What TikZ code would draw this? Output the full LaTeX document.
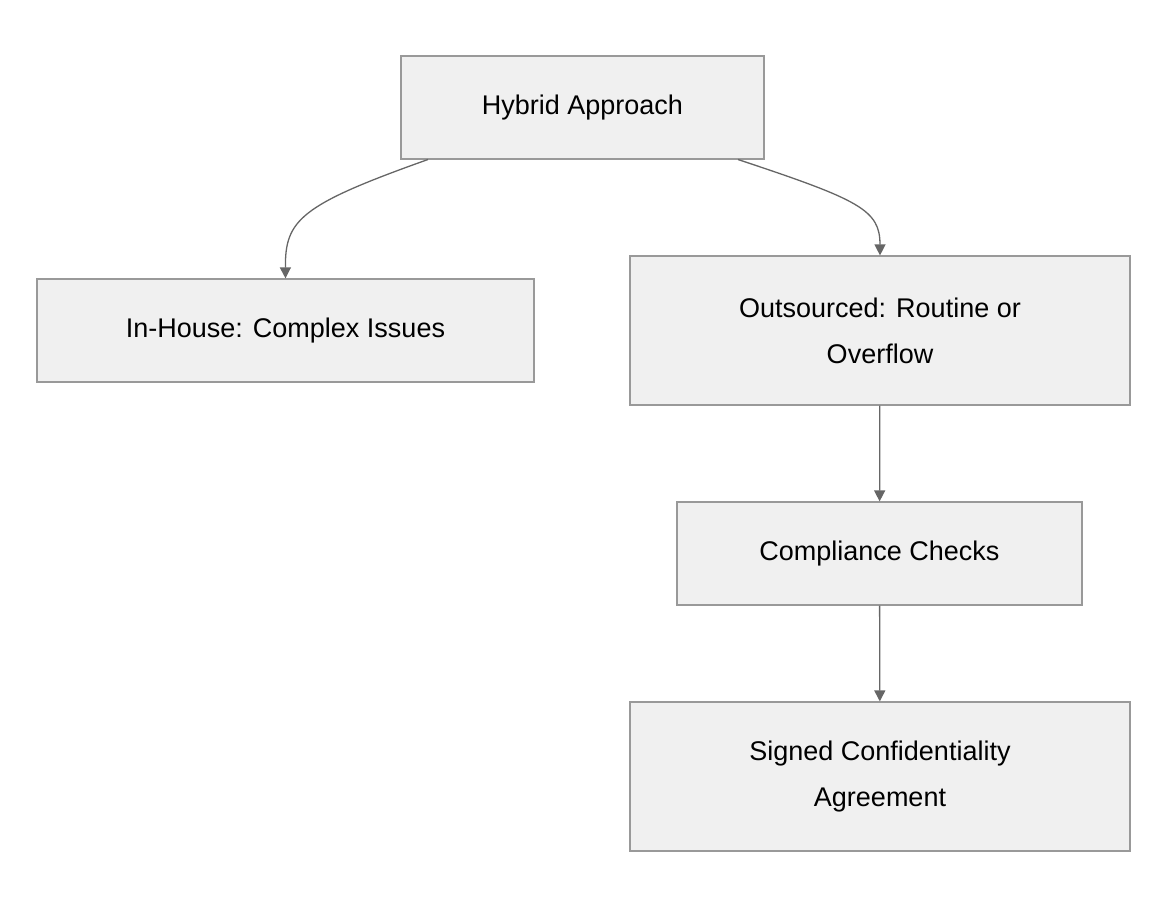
\documentclass[tikz,border=0pt]{standalone}
\usepackage{fontspec}
\setmainfont{Liberation Sans}
\usetikzlibrary{arrows.meta}
\begin{document}
\begin{tikzpicture}[x=1pt,y=-1pt,
  box/.style={draw=black!40,fill=black!6,line width=1.2pt,inner sep=0pt,align=center,font=\fontsize{27}{46}\selectfont},
  arr/.style={draw=black!60,line width=1.3pt,-{Triangle[length=11pt,width=11pt]}}]
\useasboundingbox (0,0) rectangle (1168,908);
\node[box,minimum width=363,minimum height=103] (h) at (582.5,107.5) {Hybrid Approach};
\node[box,minimum width=497,minimum height=103] (i) at (285.5,330.5) {In-House: Complex Issues};
\node[box,minimum width=500,minimum height=149] (o) at (880,330.5) {Outsourced: Routine or\\Overflow};
\node[box,minimum width=405,minimum height=103] (c) at (879.5,553.5) {Compliance Checks};
\node[box,minimum width=500,minimum height=149] (s) at (880,776.5) {Signed Confidentiality\\Agreement};
\coordinate (h1) at (428,159.5);
\coordinate (h2) at (738,159.5);
\draw[arr] (h1) .. controls (300,205) and (285,220) .. (i.north);
\draw[arr] (h2) .. controls (860,200) and (880,210) .. (o.north);
\draw[arr] (o) -- (c);
\draw[arr] (c) -- (s);
\end{tikzpicture}
\end{document}
